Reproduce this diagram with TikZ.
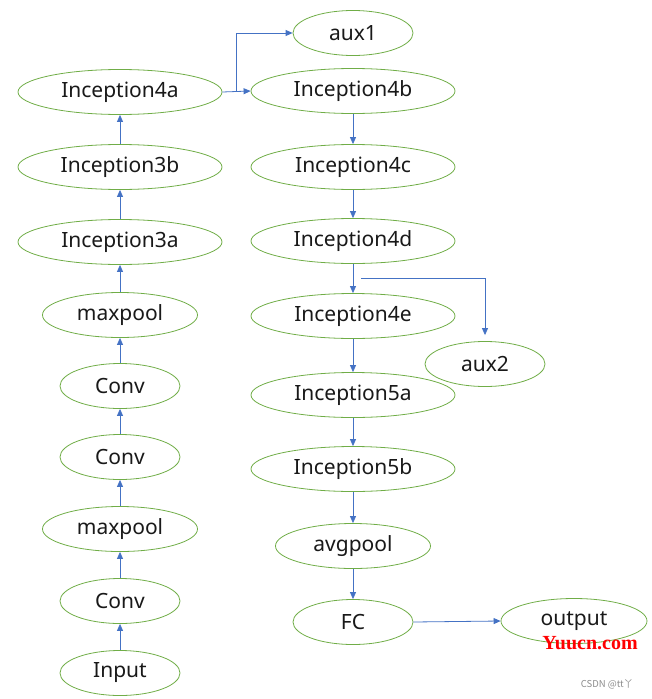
\documentclass[tikz,border=0pt]{standalone}
\usepackage{fontspec}
\setmainfont{Noto Sans}
\newfontfamily\wmserif{Liberation Serif}
\newfontfamily\cjkfont{Noto Sans CJK SC}
\usetikzlibrary{shapes.geometric,arrows.meta}
\definecolor{egreen}{HTML}{70AD47}
\definecolor{ablue}{HTML}{4472C4}
\begin{document}
\begin{tikzpicture}[x=1pt,y=-1pt,
  lay/.style={ellipse,draw=egreen,line width=0.8pt,inner sep=0pt,minimum height=45pt,font=\fontsize{21}{23}\selectfont,text=black!90},
  wide/.style={lay,minimum width=204pt},
  mid/.style={lay,minimum width=155pt},
  small/.style={lay,minimum width=120pt},
  arr/.style={draw=ablue,line width=0.8pt,-{Triangle[length=7pt,width=6pt]}}]
\useasboundingbox (0,0) rectangle (651,699);
% left column
\node[small] (in) at (120,673) {Input};
\node[small] (c1) at (120,601) {Conv};
\node[mid]   (m1) at (120,529) {maxpool};
\node[small] (c2) at (120,457) {Conv};
\node[small] (c3) at (120,386) {Conv};
\node[mid]   (m2) at (120,315) {maxpool};
\node[wide]  (i3a) at (120,242) {Inception3a};
\node[wide]  (i3b) at (120,167) {Inception3b};
\node[wide]  (i4a) at (120,92) {Inception4a};
% right column
\node[small] (aux1) at (353,33) {aux1};
\node[wide]  (i4b) at (353,91) {Inception4b};
\node[wide]  (i4c) at (353,167) {Inception4c};
\node[wide]  (i4d) at (353,241) {Inception4d};
\node[wide]  (i4e) at (353,316) {Inception4e};
\node[small] (aux2) at (485,364) {aux2};
\node[wide]  (i5a) at (353,395) {Inception5a};
\node[wide]  (i5b) at (353,469) {Inception5b};
\node[mid]   (avg) at (353,546) {avgpool};
\node[small] (fc) at (353,622) {FC};
\node[lay,minimum width=146pt] (out) at (574,621) {output};
% connectors
\draw[arr] (in) -- (c1);
\draw[arr] (c1) -- (m1);
\draw[arr] (m1) -- (c2);
\draw[arr] (c2) -- (c3);
\draw[arr] (c3) -- (m2);
\draw[arr] (m2) -- (i3a);
\draw[arr] (i3a) -- (i3b);
\draw[arr] (i3b) -- (i4a);
\draw[arr] (i4a.east) -- (i4b.west);
\coordinate (j1) at (236,91);
\draw[arr] (j1) |- (aux1.west);
\draw[arr] (i4b) -- (i4c);
\draw[arr] (i4c) -- (i4d);
\draw[arr] (i4d) -- (i4e);
\coordinate (j2) at (361,278);
\draw[arr,shorten >=6pt] (j2) -| (aux2.north);
\draw[arr] (i4e) -- (i5a);
\draw[arr] (i5a) -- (i5b);
\draw[arr] (i5b) -- (avg);
\draw[arr] (avg) -- (fc);
\draw[arr] (fc.east) -- (out.west);
% watermarks
\node[font=\wmserif\bfseries\fontsize{20}{22}\selectfont,text=red,inner sep=0pt] (wm) at (590,643) {Yuucn.com};
\node[font=\cjkfont\fontsize{9.5}{11}\selectfont,text=black!45,inner sep=0pt] (wm2) at (607,684) {CSDN @tt丫};
\end{tikzpicture}
\end{document}
